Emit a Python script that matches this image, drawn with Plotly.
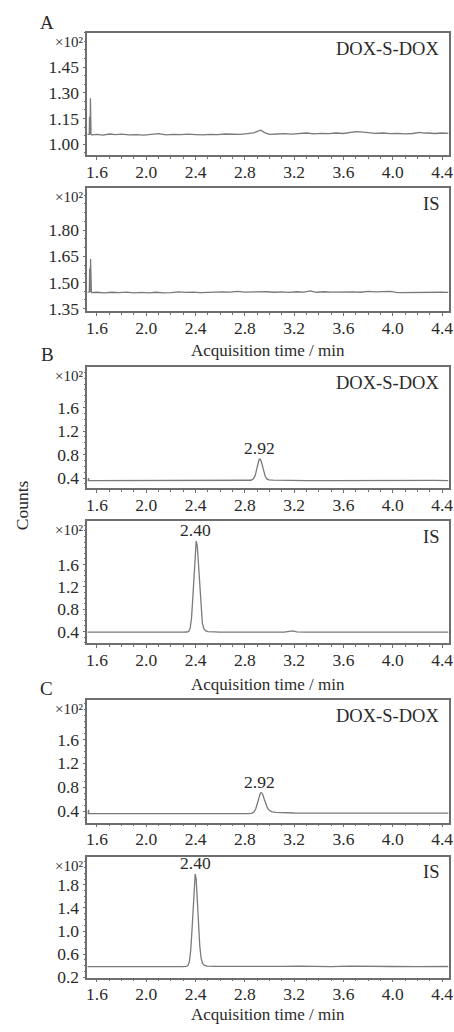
import plotly.graph_objects as go

# ---------------- data (time in min, counts in x10^2) ----------------
A_dox = [(1.522, 1.058), (1.530, 1.057), (1.538, 1.058), (1.540, 1.160), (1.542, 1.060),
         (1.545, 1.058), (1.547, 1.268), (1.549, 1.060), (1.552, 1.056), (1.560, 1.055),
         (1.600, 1.058), (1.650, 1.054), (1.700, 1.060), (1.750, 1.056), (1.800, 1.059),
         (1.860, 1.055), (1.920, 1.057), (1.980, 1.054), (2.040, 1.058), (2.100, 1.062),
         (2.160, 1.055), (2.220, 1.058), (2.280, 1.056), (2.340, 1.059), (2.400, 1.057),
         (2.460, 1.055), (2.520, 1.058), (2.580, 1.056), (2.640, 1.060), (2.700, 1.057),
         (2.760, 1.058), (2.820, 1.062), (2.870, 1.066), (2.900, 1.075), (2.930, 1.082),
         (2.960, 1.068), (3.000, 1.058), (3.060, 1.060), (3.120, 1.062), (3.180, 1.059),
         (3.240, 1.063), (3.300, 1.066), (3.360, 1.061), (3.420, 1.064), (3.480, 1.062),
         (3.540, 1.066), (3.600, 1.063), (3.660, 1.070), (3.700, 1.074), (3.740, 1.072),
         (3.800, 1.068), (3.860, 1.064), (3.920, 1.066), (3.980, 1.062), (4.040, 1.064),
         (4.100, 1.061), (4.160, 1.063), (4.220, 1.070), (4.250, 1.065), (4.280, 1.066),
         (4.340, 1.063), (4.400, 1.066), (4.452, 1.064)]

A_is = [(1.522, 1.445), (1.530, 1.444), (1.538, 1.446), (1.541, 1.580), (1.543, 1.446),
        (1.546, 1.445), (1.548, 1.635), (1.550, 1.447), (1.555, 1.442), (1.600, 1.444),
        (1.660, 1.441), (1.720, 1.444), (1.780, 1.442), (1.840, 1.445), (1.900, 1.441),
        (1.960, 1.443), (2.020, 1.441), (2.080, 1.444), (2.140, 1.440), (2.200, 1.442),
        (2.260, 1.446), (2.320, 1.443), (2.380, 1.445), (2.440, 1.442), (2.500, 1.444),
        (2.560, 1.443), (2.620, 1.446), (2.680, 1.445), (2.740, 1.449), (2.800, 1.445),
        (2.860, 1.446), (2.920, 1.444), (2.980, 1.447), (3.040, 1.444), (3.100, 1.446),
        (3.160, 1.443), (3.220, 1.447), (3.280, 1.445), (3.330, 1.452), (3.380, 1.444),
        (3.440, 1.447), (3.500, 1.445), (3.560, 1.446), (3.620, 1.443), (3.680, 1.446),
        (3.740, 1.444), (3.800, 1.449), (3.860, 1.446), (3.920, 1.447), (3.980, 1.449),
        (4.040, 1.442), (4.100, 1.443), (4.160, 1.442), (4.220, 1.444), (4.280, 1.446),
        (4.340, 1.443), (4.400, 1.444), (4.452, 1.443)]

B_dox = [(1.522, 0.355), (1.528, 0.356), (1.531, 0.400), (1.534, 0.357), (1.560, 0.355),
         (1.700, 0.356), (1.900, 0.355), (2.100, 0.356), (2.300, 0.355), (2.500, 0.356),
         (2.700, 0.356), (2.820, 0.357), (2.850, 0.362), (2.870, 0.385), (2.885, 0.450),
         (2.897, 0.560), (2.907, 0.660), (2.915, 0.715), (2.923, 0.722), (2.932, 0.690),
         (2.942, 0.610), (2.953, 0.510), (2.965, 0.430), (2.978, 0.385), (2.995, 0.368),
         (3.030, 0.364), (3.060, 0.362), (3.100, 0.358), (3.300, 0.357), (3.500, 0.356),
         (3.700, 0.357), (3.820, 0.358), (3.850, 0.368), (3.880, 0.359), (4.000, 0.357),
         (4.150, 0.358), (4.200, 0.367), (4.240, 0.360), (4.300, 0.366), (4.340, 0.359),
         (4.452, 0.357)]

B_is = [(1.522, 0.388), (1.600, 0.387), (1.800, 0.388), (2.000, 0.387), (2.200, 0.388),
        (2.300, 0.389), (2.330, 0.392), (2.345, 0.405), (2.357, 0.470), (2.367, 0.640),
        (2.377, 0.980), (2.387, 1.420), (2.396, 1.820), (2.405, 2.020), (2.414, 1.930),
        (2.424, 1.560), (2.434, 1.110), (2.444, 0.760), (2.455, 0.550), (2.467, 0.450),
        (2.480, 0.415), (2.500, 0.400), (2.540, 0.392), (2.600, 0.389), (2.800, 0.388),
        (3.000, 0.388), (3.120, 0.389), (3.160, 0.405), (3.190, 0.412), (3.220, 0.395),
        (3.300, 0.389), (3.500, 0.388), (3.800, 0.389), (4.100, 0.388), (4.452, 0.390)]

C_dox = [(1.522, 0.362), (1.528, 0.365), (1.531, 0.425), (1.534, 0.366), (1.560, 0.360),
         (1.700, 0.359), (1.900, 0.360), (2.100, 0.359), (2.300, 0.360), (2.500, 0.360),
         (2.700, 0.361), (2.820, 0.362), (2.855, 0.366), (2.875, 0.390), (2.890, 0.450),
         (2.903, 0.550), (2.915, 0.650), (2.926, 0.705), (2.935, 0.710), (2.945, 0.680),
         (2.956, 0.610), (2.968, 0.530), (2.982, 0.460), (2.998, 0.415), (3.020, 0.390),
         (3.050, 0.380), (3.100, 0.374), (3.200, 0.371), (3.400, 0.370), (3.600, 0.372),
         (3.800, 0.370), (4.000, 0.371), (4.200, 0.369), (4.452, 0.370)]

C_is = [(1.522, 0.382), (1.600, 0.381), (1.700, 0.379), (1.800, 0.381), (2.000, 0.380),
        (2.200, 0.381), (2.300, 0.382), (2.325, 0.386), (2.338, 0.400), (2.350, 0.470),
        (2.360, 0.650), (2.370, 0.980), (2.380, 1.420), (2.389, 1.820), (2.397, 1.990),
        (2.405, 1.900), (2.414, 1.550), (2.424, 1.100), (2.434, 0.740), (2.445, 0.530),
        (2.457, 0.440), (2.472, 0.405), (2.495, 0.392), (2.550, 0.386), (2.700, 0.383),
        (2.900, 0.384), (3.100, 0.386), (3.250, 0.392), (3.350, 0.386), (3.500, 0.384),
        (3.650, 0.391), (3.750, 0.386), (3.900, 0.390), (4.000, 0.385), (4.200, 0.384),
        (4.452, 0.385)]

traces_data = [A_dox, A_is, B_dox, B_is, C_dox, C_is]
compound_labels = ["DOX-S-DOX", "IS", "DOX-S-DOX", "IS", "DOX-S-DOX", "IS"]
panel_letters = ["A", "B", "C"]

y_ranges = [[0.935, 1.65], [1.337, 2.04], [0.231, 2.29], [0.195, 2.38], [0.21, 2.26], [0.19, 2.29]]
y_ticks = [[1.00, 1.15, 1.30, 1.45], [1.35, 1.50, 1.65, 1.80],
           [0.4, 0.8, 1.2, 1.6], [0.4, 0.8, 1.2, 1.6],
           [0.4, 0.8, 1.2, 1.6], [0.2, 0.6, 1.0, 1.4, 1.8]]
y_ticktext = [["1.00", "1.15", "1.30", "1.45"], ["1.35", "1.50", "1.65", "1.80"],
              ["0.4", "0.8", "1.2", "1.6"], ["0.4", "0.8", "1.2", "1.6"],
              ["0.4", "0.8", "1.2", "1.6"], ["0.2", "0.6", "1.0", "1.4", "1.8"]]
y_minor = [0.05, 0.05, 0.1, 0.1, 0.1, 0.1]

x_range = [1.522, 4.452]
x_ticks = [1.6, 2.0, 2.4, 2.8, 3.2, 3.6, 4.0, 4.4]
x_ticktext = ["1.6", "2.0", "2.4", "2.8", "3.2", "3.6", "4.0", "4.4"]

# peak annotations: (panel index, retention time, label)
peak_labels = [(2, 2.92, "2.92"), (3, 2.40, "2.40"), (4, 2.92, "2.92"), (5, 2.40, "2.40")]

# ---------------- layout geometry (pixels) ----------------
W, H = 454, 1032
panel_px = [(33, 157), (190, 314), (370.7, 492.7), (526, 649.3), (706.7, 830.7), (865, 987.3)]
x_left_px, x_right_px = 87.5, 453.5
SERIF = "Liberation Serif, Times New Roman, serif"
TXT = "#2a2a2a"
FS = 17.5

def px(x):
    return x / W

def py(y):
    return 1 - y / H

fig = go.Figure()
layout = dict(
    width=W, height=H, margin=dict(l=0, r=0, t=0, b=0),
    paper_bgcolor="white", plot_bgcolor="white", showlegend=False,
    font=dict(family=SERIF, size=FS, color=TXT),
)

annotations = []
for i, pts in enumerate(traces_data):
    n = i + 1
    xa = "x" if n == 1 else f"x{n}"
    ya = "y" if n == 1 else f"y{n}"
    fig.add_trace(go.Scatter(
        x=[p[0] for p in pts], y=[p[1] for p in pts], mode="lines",
        line=dict(color="#7a7a7a", width=1.3), xaxis=xa, yaxis=ya,
        hoverinfo="skip"))
    top, bot = panel_px[i]
    axis_common = dict(showline=True, linecolor="#6e6e6e", linewidth=1.5, mirror=True,
                       showgrid=False, zeroline=False, ticks="outside", ticklen=3,
                       tickcolor="#6e6e6e", tickwidth=1,
                       tickfont=dict(family=SERIF, size=FS, color=TXT))
    layout["xaxis" if n == 1 else f"xaxis{n}"] = dict(
        axis_common, domain=[px(x_left_px), px(x_right_px)], range=x_range,
        tickmode="array", tickvals=x_ticks, ticktext=x_ticktext,
        ticklabeloverflow="allow", ticklabelstandoff=-3,
        minor=dict(dtick=0.1, ticks="outside", ticklen=2, tickcolor="#6e6e6e"),
        anchor=ya)
    layout["yaxis" if n == 1 else f"yaxis{n}"] = dict(
        axis_common, domain=[py(bot), py(top)], range=y_ranges[i],
        tickmode="array", tickvals=y_ticks[i], ticktext=y_ticktext[i],
        minor=dict(dtick=y_minor[i], ticks="outside", ticklen=2, tickcolor="#6e6e6e"),
        anchor=xa)
    # compound label (top right)
    annotations.append(dict(x=px(446), y=py(top + 16), xref="paper", yref="paper",
                            text=compound_labels[i], showarrow=False, xanchor="right",
                            yanchor="middle", font=dict(family=SERIF, size=18.5, color=TXT)))
    # x10^2 multiplier
    annotations.append(dict(x=px(85), y=py(top + 9), xref="paper", yref="paper",
                            text="×10²", showarrow=False, xanchor="right",
                            yanchor="middle", font=dict(family=SERIF, size=15, color=TXT)))

for idx, rt, lab in peak_labels:
    n = idx + 1
    pts = traces_data[idx]
    ymax = max(p[1] for p in pts)
    annotations.append(dict(x=rt, y=ymax, xref=f"x{n}", yref=f"y{n}", text=lab,
                            showarrow=False, yanchor="bottom", yshift=-1,
                            font=dict(family=SERIF, size=FS, color=TXT)))

# panel letters
for letter, (xp, yp) in zip(panel_letters, [(47, 23), (47, 358), (46, 695)]):
    annotations.append(dict(x=px(xp), y=py(yp), xref="paper", yref="paper", text=letter,
                            showarrow=False, xanchor="center", yanchor="middle",
                            font=dict(family=SERIF, size=19, color=TXT)))

# x-axis titles
for yp in [354, 691, 1024]:
    annotations.append(dict(x=px((x_left_px + x_right_px) / 2), y=py(yp), xref="paper",
                            yref="paper", text="Acquisition time / min", showarrow=False,
                            xanchor="center", yanchor="middle",
                            font=dict(family=SERIF, size=17, color=TXT)))

# y-axis title
annotations.append(dict(x=px(21.5), y=py(510), xref="paper", yref="paper", text="Counts",
                        showarrow=False, textangle=-90, xanchor="center", yanchor="middle",
                        font=dict(family=SERIF, size=FS, color=TXT)))

layout["annotations"] = annotations
fig.update_layout(**layout)
fig.write_html("out.html", config={"displayModeBar": False},
               post_script="document.body.style.margin='0';document.body.style.padding='0';"
                           "document.body.style.overflow='hidden';")
